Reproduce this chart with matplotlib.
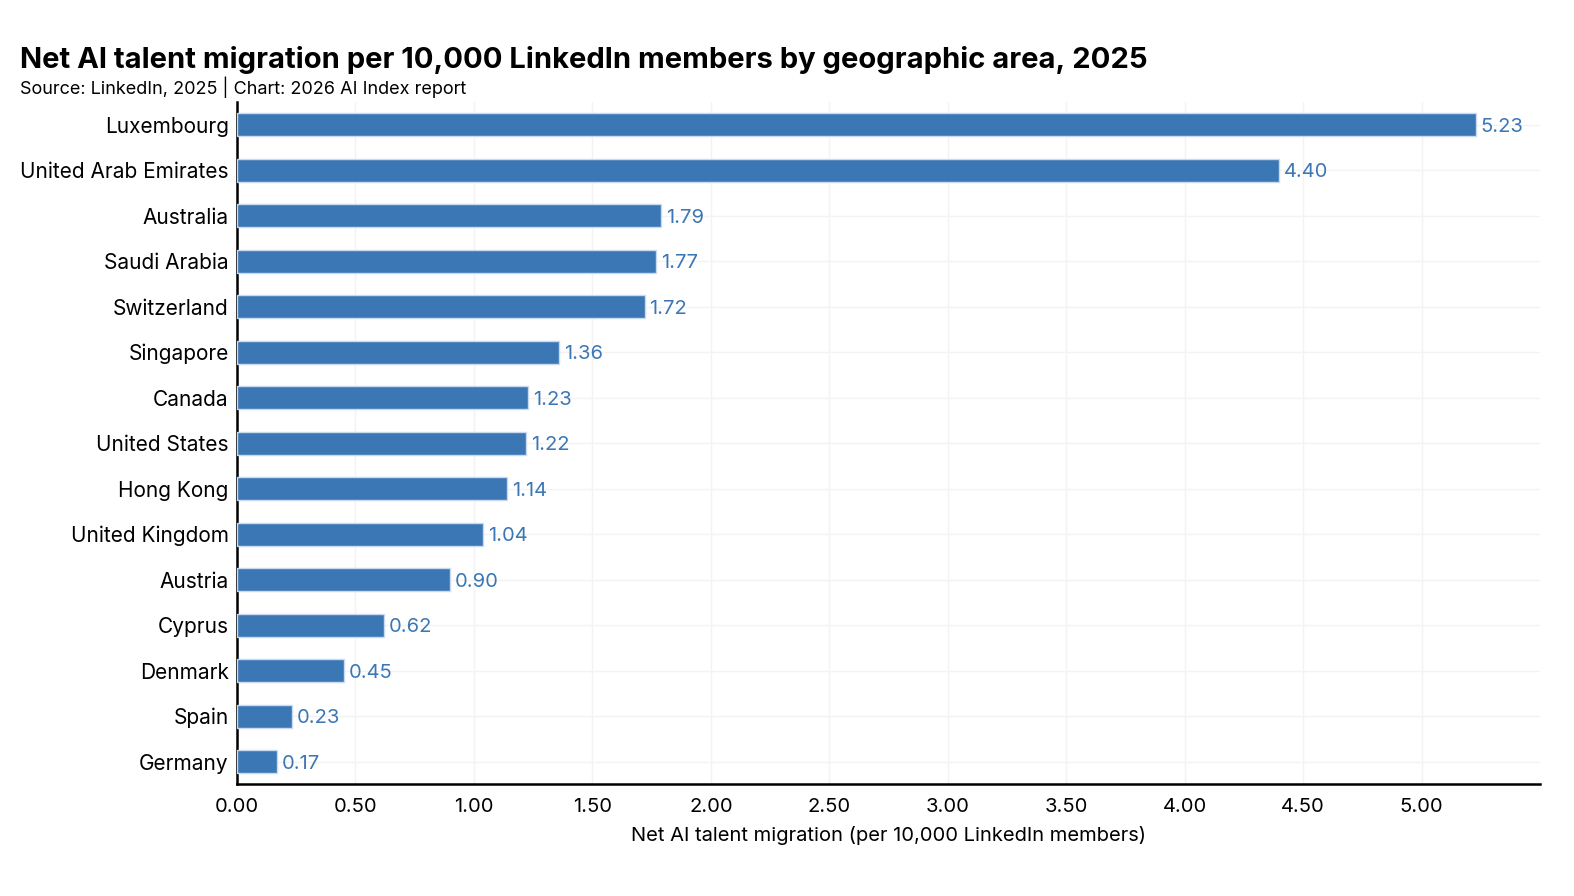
import matplotlib.pyplot as plt

plt.rcParams['font.family'] = ['Inter', 'DejaVu Sans']

countries = ['Luxembourg', 'United Arab Emirates', 'Australia', 'Saudi Arabia', 'Switzerland',
             'Singapore', 'Canada', 'United States', 'Hong Kong', 'United Kingdom',
             'Austria', 'Cyprus', 'Denmark', 'Spain', 'Germany']
migration = [5.23, 4.40, 1.79, 1.77, 1.72, 1.36, 1.23, 1.22, 1.14, 1.04,
             0.90, 0.62, 0.45, 0.23, 0.17]
xticks = [0, 0.5, 1, 1.5, 2, 2.5, 3, 3.5, 4, 4.5, 5]

bar_color = '#3b77b5'

fig = plt.figure(figsize=(15.74, 8.96), dpi=100)
ax = fig.add_axes([0.1506, 0.1245, 0.8278, 0.7617])

ypos = list(range(len(countries)))[::-1]
ax.barh(ypos, migration, height=0.5, color=bar_color, edgecolor='#c9daee', linewidth=1, zorder=3)
for y, v in zip(ypos, migration):
    ax.text(v + 0.02, y, f'{v:.2f}', va='center_baseline', ha='left', color=bar_color, fontsize=14.5)

ax.set_yticks(ypos)
ax.set_yticklabels(countries, fontsize=15)
ax.set_xticks(xticks)
ax.set_xticklabels([f'{t:.2f}' for t in xticks], fontsize=14.5)
ax.tick_params(length=0, pad=6)
ax.tick_params(axis='x', pad=10)
ax.set_xlim(0, 5.5)
ax.set_ylim(-0.5, len(countries) - 0.5)
ax.grid(True, color='#f3f3f3', linewidth=1, zorder=0)
ax.set_axisbelow(True)
for s in ['top', 'right']:
    ax.spines[s].set_visible(False)
for s in ['left', 'bottom']:
    ax.spines[s].set_linewidth(1.8)
    ax.spines[s].set_color('black')
ax.set_xlabel('Net AI talent migration (per 10,000 LinkedIn members)', fontsize=14.5, labelpad=7)

fig.text(0.0127, 0.924, 'Net AI talent migration per 10,000 LinkedIn members by geographic area, 2025',
         fontsize=21, fontweight='bold', va='baseline')
fig.text(0.0127, 0.895, 'Source: LinkedIn, 2025 | Chart: 2026 AI Index report', fontsize=13, va='baseline')

fig.savefig('out.png', dpi=100)
